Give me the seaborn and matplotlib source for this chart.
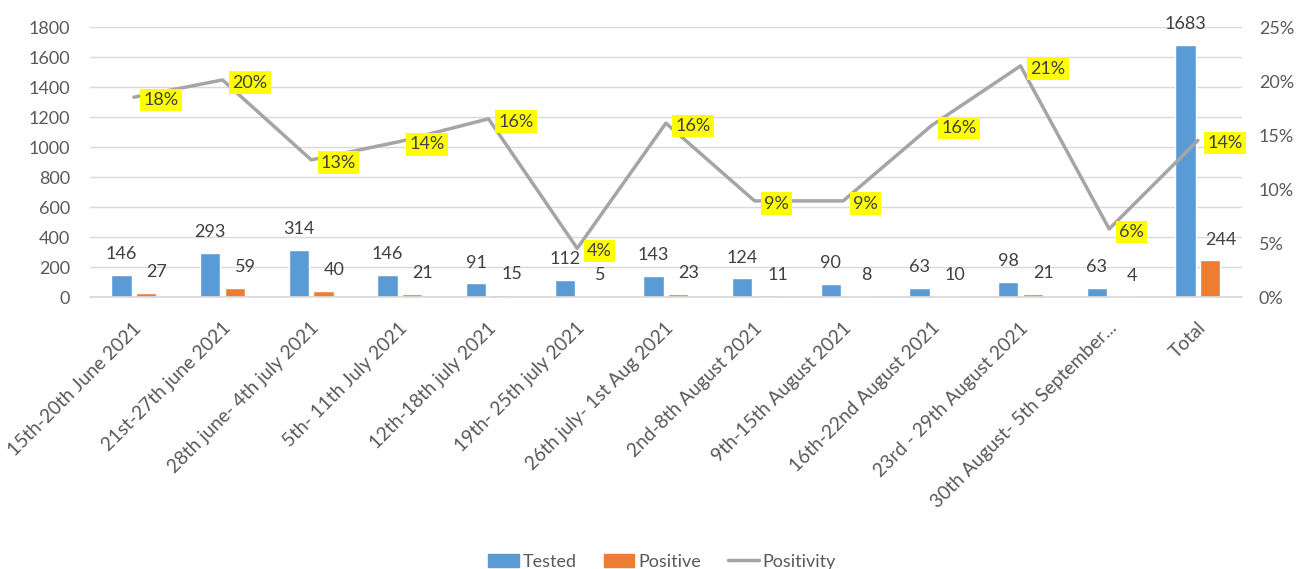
import numpy as np
import pandas as pd
import matplotlib
matplotlib.use("Agg")
import matplotlib.pyplot as plt
import matplotlib.transforms as mtransforms
import seaborn as sns
from matplotlib.patches import Patch
from matplotlib.lines import Line2D

weeks = [
    "15th-20th June 2021", "21st-27th june 2021", "28th june- 4th july 2021",
    "5th- 11th July 2021", "12th-18th july 2021", "19th- 25th july 2021",
    "26th july- 1st Aug 2021", "2nd-8th August 2021", "9th-15th August 2021",
    "16th-22nd August 2021", "23rd - 29th August 2021",
    "30th August- 5th September...", "Total",
]
tested = [146, 293, 314, 146, 91, 112, 143, 124, 90, 63, 98, 63, 1683]
positive = [27, 59, 40, 21, 15, 5, 23, 11, 8, 10, 21, 4, 244]
positivity = [0.185, 0.201, 0.127, 0.144, 0.165, 0.045, 0.161, 0.089,
              0.089, 0.159, 0.214, 0.063, 0.145]
positivity_labels = ["18%", "20%", "13%", "14%", "16%", "4%", "16%", "9%",
                     "9%", "16%", "21%", "6%", "14%"]

BLUE, ORANGE, GREY = "#5B9BD5", "#ED7D31", "#A5A5A5"
TXT = "#595959"
FS = 13

sns.set_theme(style="white")
plt.rcParams["font.family"] = ["Lato", "DejaVu Sans"]

df = pd.DataFrame({"week": weeks, "Tested": tested, "Positive": positive})
long = df.melt(id_vars="week", var_name="series", value_name="count")

fig = plt.figure(figsize=(12.98, 5.69), dpi=100)
ax = fig.add_axes([0.069, 0.478, 0.888, 0.4745])

sns.barplot(data=long, x="week", y="count", hue="series", order=weeks,
            hue_order=["Tested", "Positive"], palette=[BLUE, ORANGE],
            width=0.56, gap=0.18, saturation=1, legend=False, ax=ax)

# value labels above each bar (positive labels nudged right, as in the original)
for cont in ax.containers:
    for bar in cont:
        h = bar.get_height()
        cx = bar.get_x() + bar.get_width() / 2
        dx = 0 if bar.get_facecolor()[2] > 0.5 else 0.12
        ax.annotate(f"{int(h)}", (cx + dx, h), xytext=(0, 15),
                    textcoords="offset points", ha="center", va="center",
                    fontsize=FS, color="#404040")

ax.set_ylim(0, 1800)
ax.set_yticks(range(0, 1801, 200))
ax.set_xlim(-0.5, len(weeks) - 0.5)
ax.grid(axis="y", color="#D9D9D9", lw=1)
ax.set_axisbelow(True)
for s in ["top", "right", "left"]:
    ax.spines[s].set_visible(False)
ax.spines["bottom"].set_color("#D9D9D9")
ax.set_xlabel("")
ax.set_ylabel("")
ax.tick_params(axis="y", labelsize=FS, labelcolor=TXT, length=0, pad=14)
ax.tick_params(axis="x", labelsize=13.8, labelcolor=TXT, length=0, pad=16)
shift = mtransforms.ScaledTranslation(-1 / 100, 0, fig.dpi_scale_trans)
for lab in ax.get_xticklabels():
    lab.set_rotation(45)
    lab.set_ha("right")
    lab.set_va("top")
    lab.set_rotation_mode("anchor")
    lab.set_transform(lab.get_transform() + shift)

# positivity line on the secondary axis
ax2 = ax.twinx()
sns.lineplot(x=np.arange(len(weeks)), y=positivity, color=GREY, lw=2.5, ax=ax2)
ax2.set_ylim(0, 0.25)
ax2.set_yticks(np.arange(0, 0.26, 0.05))
ax2.set_yticklabels([f"{int(round(v * 100))}%" for v in np.arange(0, 0.26, 0.05)])
ax2.tick_params(axis="y", labelsize=FS, labelcolor=TXT, length=0, pad=12)
for s in ax2.spines.values():
    s.set_visible(False)
ax2.grid(False)

for i, (v, lab) in enumerate(zip(positivity, positivity_labels)):
    ax2.annotate(lab, (i, v), xytext=(7, -2), textcoords="offset points",
                 ha="left", va="center", fontsize=FS, color="#404040",
                 bbox=dict(boxstyle="square,pad=0.18", fc="#FFFF00", ec="none"))

handles = [Patch(color=BLUE, label="Tested"), Patch(color=ORANGE, label="Positive"),
           Line2D([], [], color=GREY, lw=2.5, label="Positivity")]
leg = fig.legend(handles=handles, loc="lower center", bbox_to_anchor=(0.51, -0.03),
                 ncol=3, frameon=False, fontsize=FS, handlelength=1.7,
                 handleheight=0.8, columnspacing=1.5, handletextpad=0.2)
for t in leg.get_texts():
    t.set_color(TXT)

fig.savefig("out.png", dpi=100)
